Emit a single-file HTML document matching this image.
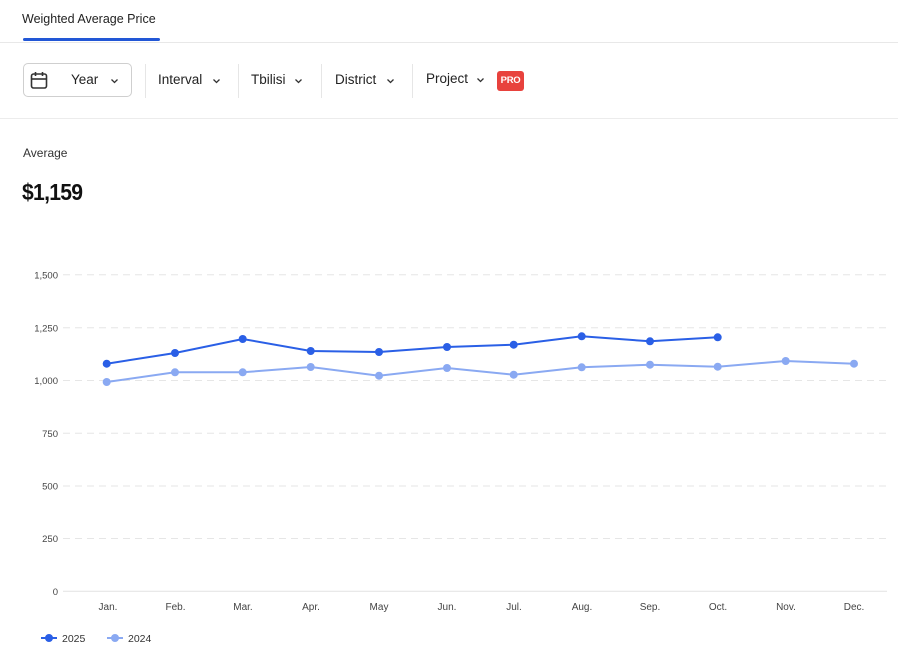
<!DOCTYPE html>
<html><head><meta charset="utf-8">
<style>
html,body{margin:0;padding:0;background:#fff;}
body{width:898px;height:655px;position:relative;overflow:hidden;font-family:"Liberation Sans",sans-serif;color:#222;}
.abs{position:absolute;}
.tab{left:22px;top:12px;font-size:12.5px;color:#222;}
.uline{left:23px;top:38px;width:137px;height:3px;background:#2257d6;border-radius:2px;}
.hr1{left:0;top:42px;width:898px;height:1px;background:#e8e8e8;}
.hr2{left:0;top:118px;width:898px;height:1px;background:#ececec;}
.ybox{left:23px;top:63px;width:109px;height:34px;border:1px solid #cfcfcf;border-radius:5px;box-sizing:border-box;}
.ft{font-size:13.5px;color:#222;top:72px;}
.sep{top:64px;width:1px;height:34px;background:#e6e6e6;}
.pro{left:497px;top:71px;width:27px;height:20px;background:#e8423d;border-radius:3px;color:#fff;font-size:9.5px;font-weight:bold;text-align:center;line-height:20px;letter-spacing:-0.3px;}
.avg{left:23px;top:146px;font-size:12px;color:#333;}
.big{left:22px;top:179px;font-size:23px;font-weight:bold;color:#111;letter-spacing:-0.8px;transform:scaleX(0.92);transform-origin:0 0;}
</style></head><body>
<div class="abs tab">Weighted Average Price</div>
<div class="abs uline"></div>
<div class="abs hr1"></div>

<div class="abs ybox"></div>
<svg class="abs" style="left:30px;top:71px" width="18" height="19" viewBox="0 0 18 19">
<rect x="1.5" y="3" width="15" height="14" rx="2" fill="none" stroke="#333" stroke-width="1.6"/>
<line x1="1.5" y1="8" x2="16.5" y2="8" stroke="#333" stroke-width="1.6"/>
<line x1="5.5" y1="1" x2="5.5" y2="5" stroke="#333" stroke-width="1.6"/>
<line x1="12.5" y1="1" x2="12.5" y2="5" stroke="#333" stroke-width="1.6"/>
</svg>
<div class="abs ft" style="left:71px">Year</div>
<svg class="abs" style="left:110px;top:78px" width="9" height="6" viewBox="0 0 9 6"><path d="M1.5 1.5 L4.5 4.5 L7.5 1.5" fill="none" stroke="#333" stroke-width="1.3"/></svg>

<div class="abs sep" style="left:145px"></div>
<div class="abs ft" style="left:158px">Interval</div>
<svg class="abs" style="left:212px;top:78px" width="9" height="6" viewBox="0 0 9 6"><path d="M1.5 1.5 L4.5 4.5 L7.5 1.5" fill="none" stroke="#333" stroke-width="1.3"/></svg>

<div class="abs sep" style="left:238px"></div>
<div class="abs ft" style="left:251px">Tbilisi</div>
<svg class="abs" style="left:294px;top:78px" width="9" height="6" viewBox="0 0 9 6"><path d="M1.5 1.5 L4.5 4.5 L7.5 1.5" fill="none" stroke="#333" stroke-width="1.3"/></svg>

<div class="abs sep" style="left:321px"></div>
<div class="abs ft" style="left:335px">District</div>
<svg class="abs" style="left:386px;top:78px" width="9" height="6" viewBox="0 0 9 6"><path d="M1.5 1.5 L4.5 4.5 L7.5 1.5" fill="none" stroke="#333" stroke-width="1.3"/></svg>

<div class="abs sep" style="left:412px"></div>
<div class="abs ft" style="left:426px;top:71px">Project</div>
<svg class="abs" style="left:476px;top:77px" width="9" height="6" viewBox="0 0 9 6"><path d="M1.5 1.5 L4.5 4.5 L7.5 1.5" fill="none" stroke="#333" stroke-width="1.3"/></svg>
<div class="abs pro">PRO</div>

<div class="abs hr2"></div>
<div class="abs avg">Average</div>
<div class="abs big">$1,159</div>

<svg class="abs" style="left:0;top:0" width="898" height="655" viewBox="0 0 898 655">
<g stroke="#e6e6e6" stroke-width="1" stroke-dasharray="7,5">
<line x1="63" y1="274.8" x2="887" y2="274.8"/>
<line x1="63" y1="327.8" x2="887" y2="327.8"/>
<line x1="63" y1="380.5" x2="887" y2="380.5"/>
<line x1="63" y1="433.3" x2="887" y2="433.3"/>
<line x1="63" y1="486" x2="887" y2="486"/>
<line x1="63" y1="538.5" x2="887" y2="538.5"/>
</g>
<line x1="63" y1="591.3" x2="887" y2="591.3" stroke="#e2e2e2" stroke-width="1"/>
<g font-family="Liberation Sans, sans-serif" font-size="9.5" fill="#444" text-anchor="end">
<text x="58" y="278.5">1,500</text>
<text x="58" y="331.5">1,250</text>
<text x="58" y="384">1,000</text>
<text x="58" y="437">750</text>
<text x="58" y="489.5">500</text>
<text x="58" y="542">250</text>
<text x="58" y="595">0</text>
</g>
<g font-family="Liberation Sans, sans-serif" font-size="10" fill="#444" text-anchor="middle">
<text x="108" y="610">Jan.</text>
<text x="175.5" y="610">Feb.</text>
<text x="243" y="610">Mar.</text>
<text x="311" y="610">Apr.</text>
<text x="379" y="610">May</text>
<text x="447" y="610">Jun.</text>
<text x="514" y="610">Jul.</text>
<text x="582" y="610">Aug.</text>
<text x="650" y="610">Sep.</text>
<text x="718" y="610">Oct.</text>
<text x="786" y="610">Nov.</text>
<text x="854" y="610">Dec.</text>
</g>
<polyline fill="none" stroke="#8aa9f2" stroke-width="2" points="106.7,382 175,372.3 242.7,372.3 310.7,367 379,375.7 447,368 513.7,374.7 581.7,367.3 650,364.7 717.7,366.7 785.7,361 854,363.7"/>
<g fill="#8aa9f2">
<circle cx="106.7" cy="382" r="4"/><circle cx="175" cy="372.3" r="4"/><circle cx="242.7" cy="372.3" r="4"/><circle cx="310.7" cy="367" r="4"/><circle cx="379" cy="375.7" r="4"/><circle cx="447" cy="368" r="4"/><circle cx="513.7" cy="374.7" r="4"/><circle cx="581.7" cy="367.3" r="4"/><circle cx="650" cy="364.7" r="4"/><circle cx="717.7" cy="366.7" r="4"/><circle cx="785.7" cy="361" r="4"/><circle cx="854" cy="363.7" r="4"/>
</g>
<polyline fill="none" stroke="#2a5fe6" stroke-width="2" points="106.7,363.7 175,353 242.7,339 310.7,351 379,352 447,347 513.7,344.7 581.7,336.3 650,341.3 717.7,337.3"/>
<g fill="#2a5fe6">
<circle cx="106.7" cy="363.7" r="4"/><circle cx="175" cy="353" r="4"/><circle cx="242.7" cy="339" r="4"/><circle cx="310.7" cy="351" r="4"/><circle cx="379" cy="352" r="4"/><circle cx="447" cy="347" r="4"/><circle cx="513.7" cy="344.7" r="4"/><circle cx="581.7" cy="336.3" r="4"/><circle cx="650" cy="341.3" r="4"/><circle cx="717.7" cy="337.3" r="4"/>
</g>
<line x1="41" y1="638" x2="57" y2="638" stroke="#2a5fe6" stroke-width="2"/>
<circle cx="49" cy="638" r="4" fill="#2a5fe6"/>
<text x="62" y="642" font-family="Liberation Sans, sans-serif" font-size="10.5" fill="#333">2025</text>
<line x1="107" y1="638" x2="123" y2="638" stroke="#8aa9f2" stroke-width="2"/>
<circle cx="115" cy="638" r="4" fill="#8aa9f2"/>
<text x="128" y="642" font-family="Liberation Sans, sans-serif" font-size="10.5" fill="#333">2024</text>
</svg>
</body></html>
